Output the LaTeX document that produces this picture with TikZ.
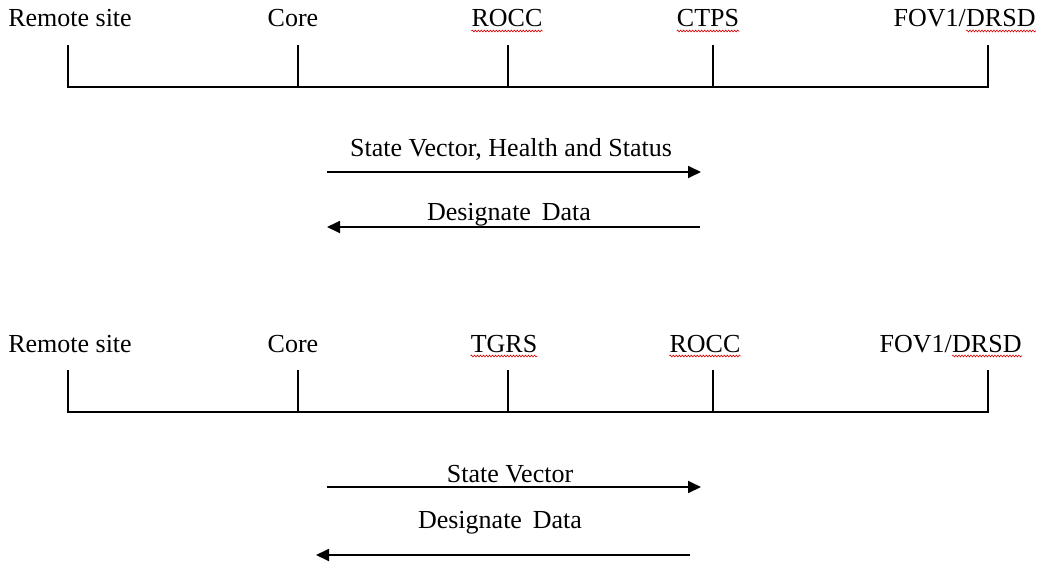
\documentclass[tikz,border=0pt]{standalone}
\usepackage{fontspec}
\setmainfont{Liberation Serif}
\usetikzlibrary{arrows.meta,decorations.pathmorphing}
\tikzset{
  lbl/.style={inner sep=0pt, anchor=base, font=\fontsize{26}{30}\selectfont},
  tl/.style={line width=1.8pt, black},
  msg/.style={line width=1.8pt, -{Triangle[length=13pt,width=12pt]}},
  squig/.style={red!85!black, line width=0.6pt, decorate, decoration={snake, amplitude=0.9pt, segment length=3pt}}
}
\begin{document}
\begin{tikzpicture}[x=1pt,y=-1pt]
\useasboundingbox (0,0) rectangle (1045,562);
% ---------- row 1 ----------
\node[lbl] (r1a) at (70,27) {Remote site};
\node[lbl] (r1b) at (293,27) {Core};
\node[lbl] (r1c) at (507,27) {ROCC};
\node[lbl] (r1d) at (708,27) {CTPS};
\node[lbl, anchor=base east] (r1e) at (966,27) {FOV1/};
\node[lbl, anchor=base west] (r1f) at (966,27) {DRSD};
\draw[squig] ([yshift=-4pt]r1c.base west) -- ([yshift=-4pt]r1c.base east);
\draw[squig] ([yshift=-4pt]r1d.base west) -- ([yshift=-4pt]r1d.base east);
\draw[squig] ([yshift=-4pt]r1f.base west) -- ([yshift=-4pt]r1f.base east);
\foreach \n/\x in {a/68,b/298,c/508,d/713,e/988}{
  \coordinate (t1\n) at (\x,45);
  \coordinate (b1\n) at (\x,87);
}
\draw[tl] (t1a) -- (b1a) -- (b1e) -- (t1e);
\draw[tl] (t1b) -- (b1b);
\draw[tl] (t1c) -- (b1c);
\draw[tl] (t1d) -- (b1d);
\coordinate (m1s) at (327,172);
\coordinate (m1e) at (701,172);
\draw[msg] (m1s) -- (m1e);
\node[lbl] (m1t) at (511,156) {State Vector, Health and Status};
\coordinate (m2s) at (700,227);
\coordinate (m2e) at (327,227);
\draw[msg] (m2s) -- (m2e);
\node[lbl] (m2t) at (509,220) {Designate\, Data};
% ---------- row 2 ----------
\node[lbl] (r2a) at (70,352) {Remote site};
\node[lbl] (r2b) at (293,352) {Core};
\node[lbl] (r2c) at (504,352) {TGRS};
\node[lbl] (r2d) at (705,352) {ROCC};
\node[lbl, anchor=base east] (r2e) at (952,352) {FOV1/};
\node[lbl, anchor=base west] (r2f) at (952,352) {DRSD};
\draw[squig] ([yshift=-4pt]r2c.base west) -- ([yshift=-4pt]r2c.base east);
\draw[squig] ([yshift=-4pt]r2d.base west) -- ([yshift=-4pt]r2d.base east);
\draw[squig] ([yshift=-4pt]r2f.base west) -- ([yshift=-4pt]r2f.base east);
\foreach \n/\x in {a/68,b/298,c/508,d/713,e/988}{
  \coordinate (t2\n) at (\x,370);
  \coordinate (b2\n) at (\x,412);
}
\draw[tl] (t2a) -- (b2a) -- (b2e) -- (t2e);
\draw[tl] (t2b) -- (b2b);
\draw[tl] (t2c) -- (b2c);
\draw[tl] (t2d) -- (b2d);
\coordinate (m3s) at (327,487);
\coordinate (m3e) at (701,487);
\draw[msg] (m3s) -- (m3e);
\node[lbl] (m3t) at (510,482) {State Vector};
\coordinate (m4s) at (690,555);
\coordinate (m4e) at (316,555);
\draw[msg] (m4s) -- (m4e);
\node[lbl] (m4t) at (500,528) {Designate\, Data};
\end{tikzpicture}
\end{document}
